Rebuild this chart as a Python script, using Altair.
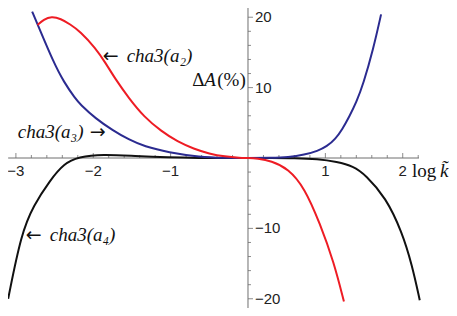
import altair as alt
import pandas as pd

# ---- data ----
red_x = [-2.72, -2.64, -2.54, -2.42, -2.30, -2.17, -1.97, -1.84, -1.72, -1.54, -1.34, -1.12,
         -0.91, -0.70, -0.50, -0.30, -0.10, 0.00, 0.12, 0.30, 0.52, 0.73, 0.93, 1.11, 1.24]
red_y = [18.9, 19.7, 20.1, 19.8, 19.0, 18.0, 15.6, 13.5, 11.3, 8.5, 5.8, 3.8,
         2.3, 1.3, 0.6, 0.2, 0.02, 0.0, -0.08, -0.4, -1.5, -4.2, -9.3, -14.8, -20.4]

blue_x = [-2.79, -2.72, -2.51, -2.38, -2.23, -2.17, -1.97, -1.75, -1.54, -1.34, -1.03, -0.62,
          -0.30, 0.00, 0.30, 0.52, 0.73, 0.90, 1.02, 1.13, 1.22, 1.31, 1.40, 1.49, 1.62, 1.72]
blue_y = [20.8, 19.0, 13.5, 10.8, 8.4, 7.65, 5.6, 3.95, 2.6, 1.65, 0.8, 0.14,
          0.02, 0.0, 0.02, 0.1, 0.45, 1.0, 1.65, 2.7, 4.1, 5.9, 7.9, 10.5, 15.5, 20.4]

black_x = [-3.10, -2.93, -2.77, -2.56, -2.38, -2.19, -1.88, -1.46, -1.03, -0.62, -0.30, 0.00,
           0.30, 0.60, 0.90, 1.15, 1.36, 1.52, 1.78, 1.99, 2.12, 2.22]
black_y = [-20.0, -10.7, -6.7, -3.2, -0.8, 0.15, 0.55, 0.27, 0.07, 0.0, 0.0, 0.0,
           0.0, -0.02, -0.14, -0.55, -1.15, -2.4, -5.6, -10.5, -15.2, -20.2]

x_major = [-3, -2, -1, 1, 2]
x_major_labels = ["\u22123", "\u22122", "\u22121", "1", "2"]
x_minor = [round(-3.0 + 0.2 * i, 1) for i in range(27)]
y_major = [-20, -10, 10, 20]
y_major_labels = ["\u221220", "\u221210", "10", "20"]
y_minor = [v for v in range(-20, 21, 2) if v != 0]

x_axis_range = [-3.10, 2.21]
y_axis_range = [-21.31, 21.31]

# annotations: text, arrow, anchor (data coordinates)
ann_text = ["cha3(a\u2082)", "cha3(a\u2083)", "cha3(a\u2084)"]
ann_arrow = ["\u2190", "\u2192", "\u2190"]
ann_x = [-1.866, -1.854, -2.86]
ann_y = [14.5, 3.7, -10.9]

# ---- scales ----
xs = alt.Scale(domain=[-3.102, 2.598], nice=False, zero=False)
ys = alt.Scale(domain=[-21.31, 21.31], nice=False, zero=False)
AX = "#6f6f6f"
INK = "#111111"
SERIF = "Liberation Serif"


def X(field):
    return alt.X(field, type="quantitative", scale=xs, axis=None)


def Y(field):
    return alt.Y(field, type="quantitative", scale=ys, axis=None)


# axis lines
xline = alt.Chart(pd.DataFrame({"a": [x_axis_range[0]], "b": [x_axis_range[1]], "y": [0]})).mark_rule(
    color=AX, strokeWidth=1).encode(x=X("a"), x2="b:Q", y=Y("y"))
yline = alt.Chart(pd.DataFrame({"a": [y_axis_range[0]], "b": [y_axis_range[1]], "x": [0]})).mark_rule(
    color=AX, strokeWidth=1).encode(y=Y("a"), y2="b:Q", x=X("x"))

# x ticks (pointing up)
xminor_df = pd.DataFrame({"v": [v for v in x_minor if abs(v - round(v)) > 1e-6], "z": 0.0})
xmajor_df = pd.DataFrame({"v": x_major, "z": 0.0, "label": x_major_labels})
xt_minor = alt.Chart(xminor_df).mark_rule(color=AX, strokeWidth=0.8, y2Offset=-3).encode(
    x=X("v"), y=Y("z"), y2="z:Q")
xt_major = alt.Chart(xmajor_df).mark_rule(color=AX, strokeWidth=0.8, y2Offset=-5).encode(
    x=X("v"), y=Y("z"), y2="z:Q")
xt_labels = alt.Chart(xmajor_df).mark_text(
    font="Liberation Sans", fontSize=15, color="#222222", dy=13, baseline="middle", align="center"
).encode(x=X("v"), y=Y("z"), text="label:N")

# y ticks (pointing right)
yminor_df = pd.DataFrame({"v": [v for v in y_minor if v % 10 != 0], "z": 0.0})
ymajor_df = pd.DataFrame({"v": y_major, "z": 0.0, "label": y_major_labels})
yt_minor = alt.Chart(yminor_df).mark_rule(color=AX, strokeWidth=0.8, x2Offset=3).encode(
    y=Y("v"), x=X("z"), x2="z:Q")
yt_major = alt.Chart(ymajor_df).mark_rule(color=AX, strokeWidth=0.8, x2Offset=5).encode(
    y=Y("v"), x=X("z"), x2="z:Q")
yt_labels = alt.Chart(ymajor_df).mark_text(
    font="Liberation Sans", fontSize=15, color="#222222", dx=7, baseline="middle", align="left"
).encode(y=Y("v"), x=X("z"), text="label:N")


def curve(xv, yv, color):
    df = pd.DataFrame({"x": xv, "y": yv, "o": list(range(len(xv)))})
    return alt.Chart(df).mark_line(color=color, strokeWidth=2, interpolate="basis").encode(
        x=X("x"), y=Y("y"), order="o:Q")


c_black = curve(black_x, black_y, "#111111")
c_blue = curve(blue_x, blue_y, "#2b2b90")
c_red = curve(red_x, red_y, "#ee1c24")

ann_df = pd.DataFrame({"x": ann_x, "y": ann_y, "t": ann_text, "a": ann_arrow})
left_df = ann_df.iloc[[0, 2]]
right_df = ann_df.iloc[[1]]

arrow_l = alt.Chart(left_df).mark_text(
    font="DejaVu Sans", fontSize=19, align="left", baseline="middle", color=INK, dx=-1
).encode(x=X("x"), y=Y("y"), text="a:N")
text_l = alt.Chart(left_df).mark_text(
    font=SERIF, fontStyle="italic", fontSize=19, align="left", baseline="middle", color=INK, dx=23
).encode(x=X("x"), y=Y("y"), text="t:N")
arrow_r = alt.Chart(right_df).mark_text(
    font="DejaVu Sans", fontSize=19, align="right", baseline="middle", color=INK, dx=1
).encode(x=X("x"), y=Y("y"), text="a:N")
text_r = alt.Chart(right_df).mark_text(
    font=SERIF, fontStyle="italic", fontSize=19, align="right", baseline="middle", color=INK, dx=-21
).encode(x=X("x"), y=Y("y"), text="t:N")

# axis titles
ylab_df = pd.DataFrame({"x": [-0.72], "y": [11.1]})
ylab_delta = alt.Chart(ylab_df).mark_text(
    font=SERIF, fontSize=19, align="left", baseline="middle", color=INK, text="\u0394"
).encode(x=X("x"), y=Y("y"))
ylab_a = alt.Chart(ylab_df).mark_text(
    font=SERIF, fontStyle="italic", fontSize=19, align="left", baseline="middle", color=INK, text="A", dx=12
).encode(x=X("x"), y=Y("y"))
ylab_pct = alt.Chart(ylab_df).mark_text(
    font=SERIF, fontSize=19, align="left", baseline="middle", color=INK, text="(%)", dx=25
).encode(x=X("x"), y=Y("y"))

xlab_df = pd.DataFrame({"x": [2.12], "y": [-1.9]})
xlab_log = alt.Chart(xlab_df).mark_text(
    font=SERIF, fontSize=19, align="left", baseline="middle", color=INK, text="log"
).encode(x=X("x"), y=Y("y"))
xlab_k = alt.Chart(xlab_df).mark_text(
    font=SERIF, fontStyle="italic", fontSize=19, align="left", baseline="middle", color=INK,
    text="k\u0303", dx=28
).encode(x=X("x"), y=Y("y"))

chart = alt.layer(
    xline, yline, xt_minor, xt_major, yt_minor, yt_major, xt_labels, yt_labels,
    c_black, c_blue, c_red, arrow_l, text_l, arrow_r, text_r,
    ylab_delta, ylab_a, ylab_pct, xlab_log, xlab_k
).properties(
    width=441, height=300, padding=0, autosize=alt.AutoSizeParams(type="none")
).configure_view(stroke=None)

chart.save("out.html", embed_options={"renderer": "svg", "actions": False})
